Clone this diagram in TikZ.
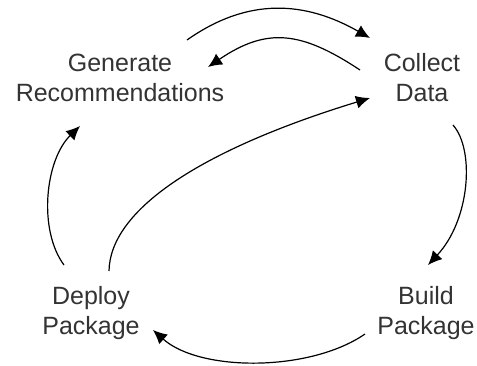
\documentclass[tikz,border=0pt]{standalone}
\usepackage{fontspec}
\setmainfont{Liberation Sans}
\usetikzlibrary{arrows.meta}
\begin{document}
\begin{tikzpicture}[x=1pt,y=-1pt,
  lbl/.style={font=\fontsize{25}{30}\selectfont, align=center, text=black!80, inner sep=0pt, anchor=base},
  flow/.style={line width=1.2pt, draw=black, -{Latex[length=14pt,width=13pt]}}]
\useasboundingbox (0,0) rectangle (477,365);
\node[lbl] (gen) at (120,101) {Generate\\Recommendations};
\node[lbl] (col) at (422,101) {Collect\\Data};
\node[lbl] (dep) at (91,334) {Deploy\\Package};
\node[lbl] (bld) at (426,334) {Build\\Package};
% connector ends
\coordinate (g2cS) at (187,40);  \coordinate (g2cE) at (370,38);
\coordinate (c2gS) at (360,70);  \coordinate (c2gE) at (208,67);
\coordinate (c2bS) at (453,125); \coordinate (c2bE) at (428,265);
\coordinate (b2dS) at (365,334); \coordinate (b2dE) at (153,330);
\coordinate (d2gS) at (64,265);  \coordinate (d2gE) at (80,126);
\coordinate (d2cS) at (109,271); \coordinate (d2cE) at (370,98);
\draw[flow] (g2cS) .. controls (248,-3) and (305,1) .. (g2cE);
\draw[flow] (c2gS) .. controls (301,31) and (267,27) .. (c2gE);
\draw[flow] (c2bS) .. controls (475,150) and (470,220) .. (c2bE);
\draw[flow] (b2dS) .. controls (310,372) and (200,372) .. (b2dE);
\draw[flow] (d2gS) .. controls (38,230) and (45,160) .. (d2gE);
\draw[flow] (d2cS) .. controls (110,210) and (200,150) .. (d2cE);
\end{tikzpicture}
\end{document}
